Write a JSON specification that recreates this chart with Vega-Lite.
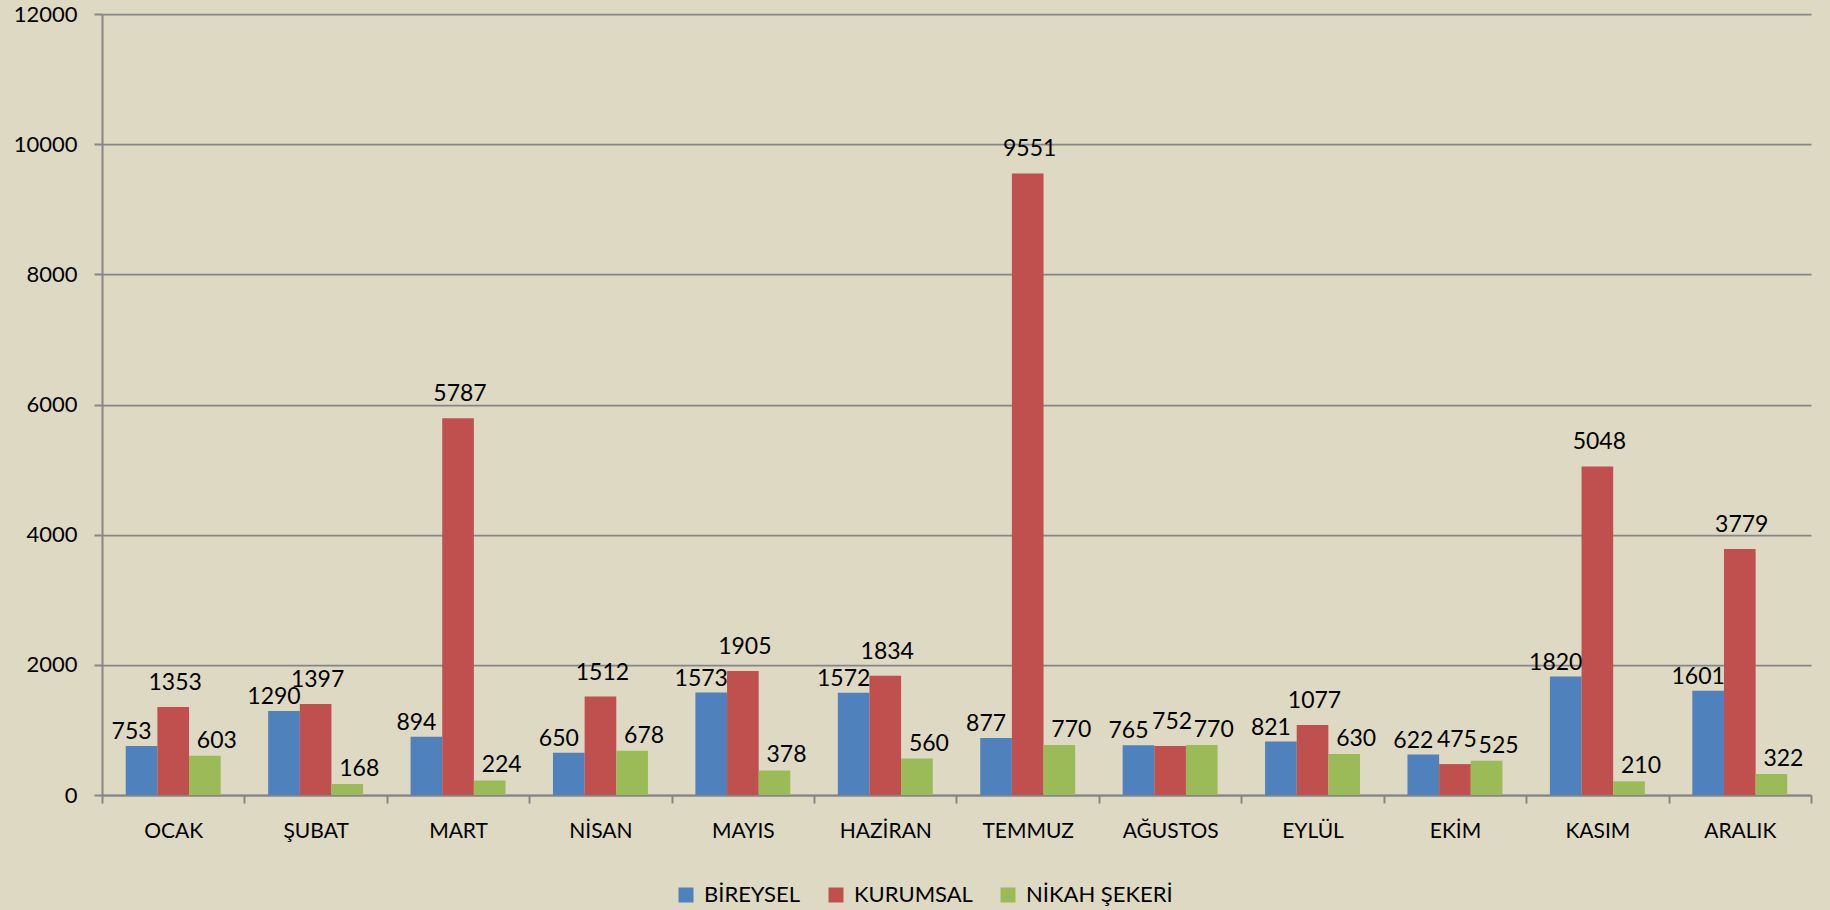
{
  "$schema": "https://vega.github.io/schema/vega-lite/v6.json",
  "width": 1709,
  "height": 781,
  "autosize": {"type": "none"},
  "padding": {"left": 102, "top": 14, "right": 19, "bottom": 115},
  "background": "#DDD9C3",
  "config": {
    "view": {"stroke": null},
    "font": "Lato",
    "axis": {"labelFont": "Lato", "labelColor": "#000000"}
  },
  "data": {
    "values": [
      {"ay": "OCAK", "tur": "BİREYSEL", "adet": 753},
      {"ay": "OCAK", "tur": "KURUMSAL", "adet": 1353},
      {"ay": "OCAK", "tur": "NİKAH ŞEKERİ", "adet": 603},
      {"ay": "ŞUBAT", "tur": "BİREYSEL", "adet": 1290},
      {"ay": "ŞUBAT", "tur": "KURUMSAL", "adet": 1397},
      {"ay": "ŞUBAT", "tur": "NİKAH ŞEKERİ", "adet": 168},
      {"ay": "MART", "tur": "BİREYSEL", "adet": 894},
      {"ay": "MART", "tur": "KURUMSAL", "adet": 5787},
      {"ay": "MART", "tur": "NİKAH ŞEKERİ", "adet": 224},
      {"ay": "NİSAN", "tur": "BİREYSEL", "adet": 650},
      {"ay": "NİSAN", "tur": "KURUMSAL", "adet": 1512},
      {"ay": "NİSAN", "tur": "NİKAH ŞEKERİ", "adet": 678},
      {"ay": "MAYIS", "tur": "BİREYSEL", "adet": 1573},
      {"ay": "MAYIS", "tur": "KURUMSAL", "adet": 1905},
      {"ay": "MAYIS", "tur": "NİKAH ŞEKERİ", "adet": 378},
      {"ay": "HAZİRAN", "tur": "BİREYSEL", "adet": 1572},
      {"ay": "HAZİRAN", "tur": "KURUMSAL", "adet": 1834},
      {"ay": "HAZİRAN", "tur": "NİKAH ŞEKERİ", "adet": 560},
      {"ay": "TEMMUZ", "tur": "BİREYSEL", "adet": 877},
      {"ay": "TEMMUZ", "tur": "KURUMSAL", "adet": 9551},
      {"ay": "TEMMUZ", "tur": "NİKAH ŞEKERİ", "adet": 770},
      {"ay": "AĞUSTOS", "tur": "BİREYSEL", "adet": 765},
      {"ay": "AĞUSTOS", "tur": "KURUMSAL", "adet": 752},
      {"ay": "AĞUSTOS", "tur": "NİKAH ŞEKERİ", "adet": 770},
      {"ay": "EYLÜL", "tur": "BİREYSEL", "adet": 821},
      {"ay": "EYLÜL", "tur": "KURUMSAL", "adet": 1077},
      {"ay": "EYLÜL", "tur": "NİKAH ŞEKERİ", "adet": 630},
      {"ay": "EKİM", "tur": "BİREYSEL", "adet": 622},
      {"ay": "EKİM", "tur": "KURUMSAL", "adet": 475},
      {"ay": "EKİM", "tur": "NİKAH ŞEKERİ", "adet": 525},
      {"ay": "KASIM", "tur": "BİREYSEL", "adet": 1820},
      {"ay": "KASIM", "tur": "KURUMSAL", "adet": 5048},
      {"ay": "KASIM", "tur": "NİKAH ŞEKERİ", "adet": 210},
      {"ay": "ARALIK", "tur": "BİREYSEL", "adet": 1601},
      {"ay": "ARALIK", "tur": "KURUMSAL", "adet": 3779},
      {"ay": "ARALIK", "tur": "NİKAH ŞEKERİ", "adet": 322}
    ]
  },
  "encoding": {
    "x": {
      "field": "ay",
      "type": "nominal",
      "sort": ["OCAK", "ŞUBAT", "MART", "NİSAN", "MAYIS", "HAZİRAN", "TEMMUZ", "AĞUSTOS", "EYLÜL", "EKİM", "KASIM", "ARALIK"],
      "scale": {"paddingInner": 0, "paddingOuter": 0},
      "axis": {
        "title": null,
        "labelAngle": 0,
        "labelFontSize": 21,
        "labelPadding": 17,
        "tickBand": "extent",
        "tickSize": 8,
        "tickColor": "#868686",
        "tickWidth": 2,
        "domainColor": "#868686",
        "domainWidth": 2,
        "grid": false
      }
    },
    "xOffset": {
      "field": "tur",
      "type": "nominal",
      "sort": ["BİREYSEL", "KURUMSAL", "NİKAH ŞEKERİ"],
      "scale": {"paddingInner": 0, "paddingOuter": 0.75}
    },
    "y": {
      "field": "adet",
      "type": "quantitative",
      "scale": {"domain": [0, 12000], "nice": false},
      "axis": {
        "title": null,
        "values": [0, 2000, 4000, 6000, 8000, 10000, 12000],
        "labelFontSize": 22,
        "labelPadding": 17,
        "tickSize": 8,
        "tickColor": "#868686",
        "tickWidth": 2,
        "domainColor": "#868686",
        "domainWidth": 2,
        "gridColor": "#868686",
        "gridWidth": 1.75,
        "format": "d"
      }
    }
  },
  "layer": [
    {
      "mark": {"type": "bar"},
      "encoding": {
        "color": {
          "field": "tur",
          "type": "nominal",
          "scale": {
            "domain": ["BİREYSEL", "KURUMSAL", "NİKAH ŞEKERİ"],
            "range": ["#4F81BD", "#C0504D", "#9BBB59"]
          },
          "legend": {
            "title": null,
            "orient": "none",
            "direction": "horizontal",
            "legendX": 573,
            "legendY": 870,
            "symbolType": "square",
            "symbolSize": 225,
            "symbolStrokeWidth": 0,
            "labelFont": "Lato",
            "labelFontSize": 22,
            "labelColor": "#000000",
            "labelOffset": 7,
            "columnPadding": 24
          }
        }
      }
    },
    {
      "transform": [{"filter": "datum.tur === 'BİREYSEL'"}],
      "mark": {"type": "text", "baseline": "alphabetic", "fontSize": 23, "dx": -10, "dy": -7, "color": "#000000"},
      "encoding": {"text": {"field": "adet", "type": "quantitative", "format": "d"}}
    },
    {
      "transform": [{"filter": "datum.tur === 'KURUMSAL'"}],
      "mark": {"type": "text", "baseline": "alphabetic", "fontSize": 23, "dx": 2, "dy": -17, "color": "#000000"},
      "encoding": {"text": {"field": "adet", "type": "quantitative", "format": "d"}}
    },
    {
      "transform": [{"filter": "datum.tur === 'NİKAH ŞEKERİ'"}],
      "mark": {"type": "text", "baseline": "alphabetic", "fontSize": 23, "dx": 12, "dy": -8, "color": "#000000"},
      "encoding": {"text": {"field": "adet", "type": "quantitative", "format": "d"}}
    }
  ]
}
